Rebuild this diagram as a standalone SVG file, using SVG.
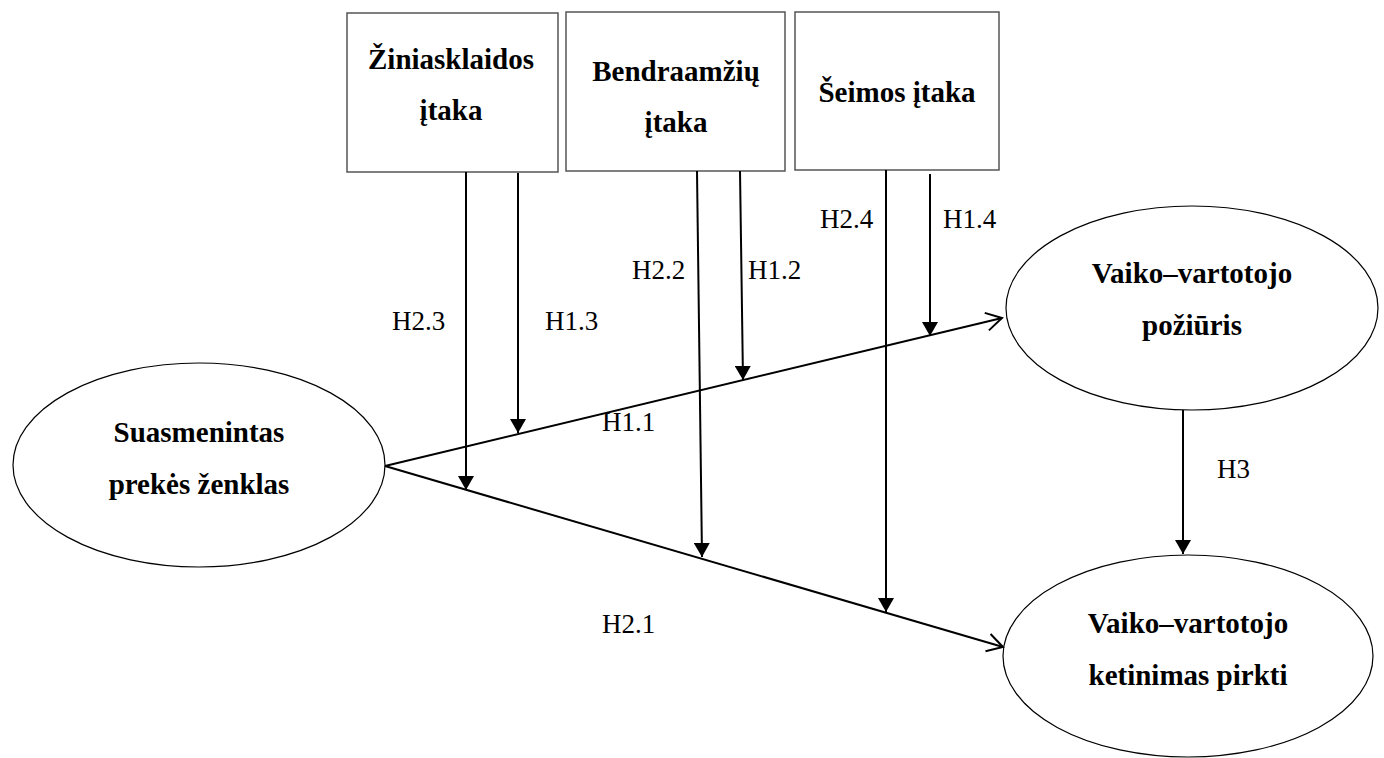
<svg xmlns="http://www.w3.org/2000/svg" width="1384" height="758" viewBox="0 0 1384 758">
<style>
.box{fill:#fff;stroke:#555;stroke-width:1.5}
.ell{fill:#fff;stroke:#000;stroke-width:1.2}
.nt{font-family:"Liberation Serif","Times New Roman",serif;font-weight:bold;font-size:29px;fill:#000;text-anchor:middle}
.lbl{font-family:"Liberation Serif","Times New Roman",serif;font-size:27px;fill:#000}
.c{stroke:#000;stroke-width:2;fill:none}
</style>
<defs>
<marker id="tri" viewBox="0 0 14 16" refX="14" refY="8" markerWidth="14" markerHeight="16" markerUnits="userSpaceOnUse" orient="auto">
<path d="M0,0 L14,8 L0,16 z" fill="#000"/>
</marker>
<marker id="open" viewBox="-2 -2 20 22" refX="15.6" refY="9" markerWidth="20" markerHeight="22" markerUnits="userSpaceOnUse" orient="auto" overflow="visible">
<path d="M0,0 L15.6,9 L0,18" fill="none" stroke="#000" stroke-width="2"/>
</marker>
</defs>
<rect width="1384" height="758" fill="#fff"/>
<g id="node-ziniasklaida">
<rect class="box" x="347" y="13" width="211" height="159"/>
<text class="nt" x="451" y="69">Žiniasklaidos</text>
<text class="nt" x="451" y="120">įtaka</text>
</g>
<g id="node-bendraamziai">
<rect class="box" x="566" y="12" width="219" height="159"/>
<text class="nt" x="676" y="81">Bendraamžių</text>
<text class="nt" x="676" y="132">įtaka</text>
</g>
<g id="node-seima">
<rect class="box" x="795" y="12" width="204" height="158"/>
<text class="nt" x="897" y="102">Šeimos įtaka</text>
</g>
<g id="node-suasmenintas">
<ellipse class="ell" cx="199" cy="465" rx="186" ry="102"/>
<text class="nt" x="199" y="442">Suasmenintas</text>
<text class="nt" x="199" y="494">prekės ženklas</text>
</g>
<g id="node-poziuris">
<ellipse class="ell" cx="1192" cy="308" rx="186" ry="102"/>
<text class="nt" x="1192" y="283">Vaiko–vartotojo</text>
<text class="nt" x="1192" y="335">požiūris</text>
</g>
<g id="node-ketinimas">
<ellipse class="ell" cx="1188" cy="656" rx="185" ry="101"/>
<text class="nt" x="1188" y="633">Vaiko–vartotojo</text>
<text class="nt" x="1188" y="685">ketinimas pirkti</text>
</g>
<g id="connectors">
<line class="c" x1="385" y1="466" x2="1002" y2="318" marker-end="url(#open)"/>
<line class="c" x1="385" y1="466" x2="1003" y2="647" marker-end="url(#open)"/>
<line class="c" x1="466" y1="172" x2="466" y2="490" marker-end="url(#tri)"/>
<line class="c" x1="518" y1="173" x2="518" y2="433" marker-end="url(#tri)"/>
<line class="c" x1="697" y1="171" x2="702" y2="557" marker-end="url(#tri)"/>
<line class="c" x1="740" y1="171" x2="743" y2="380" marker-end="url(#tri)"/>
<line class="c" x1="886" y1="170" x2="886" y2="612" marker-end="url(#tri)"/>
<line class="c" x1="930" y1="174" x2="930" y2="336" marker-end="url(#tri)"/>
<line class="c" x1="1183" y1="410" x2="1183" y2="554" marker-end="url(#tri)"/>
</g>
<g id="labels">
<text class="lbl" x="392" y="330">H2.3</text>
<text class="lbl" x="545" y="330">H1.3</text>
<text class="lbl" x="632" y="279">H2.2</text>
<text class="lbl" x="748" y="279">H1.2</text>
<text class="lbl" x="820" y="228">H2.4</text>
<text class="lbl" x="943" y="228">H1.4</text>
<text class="lbl" x="602" y="431">H1.1</text>
<text class="lbl" x="602" y="633">H2.1</text>
<text class="lbl" x="1217" y="478">H3</text>
</g>
</svg>
